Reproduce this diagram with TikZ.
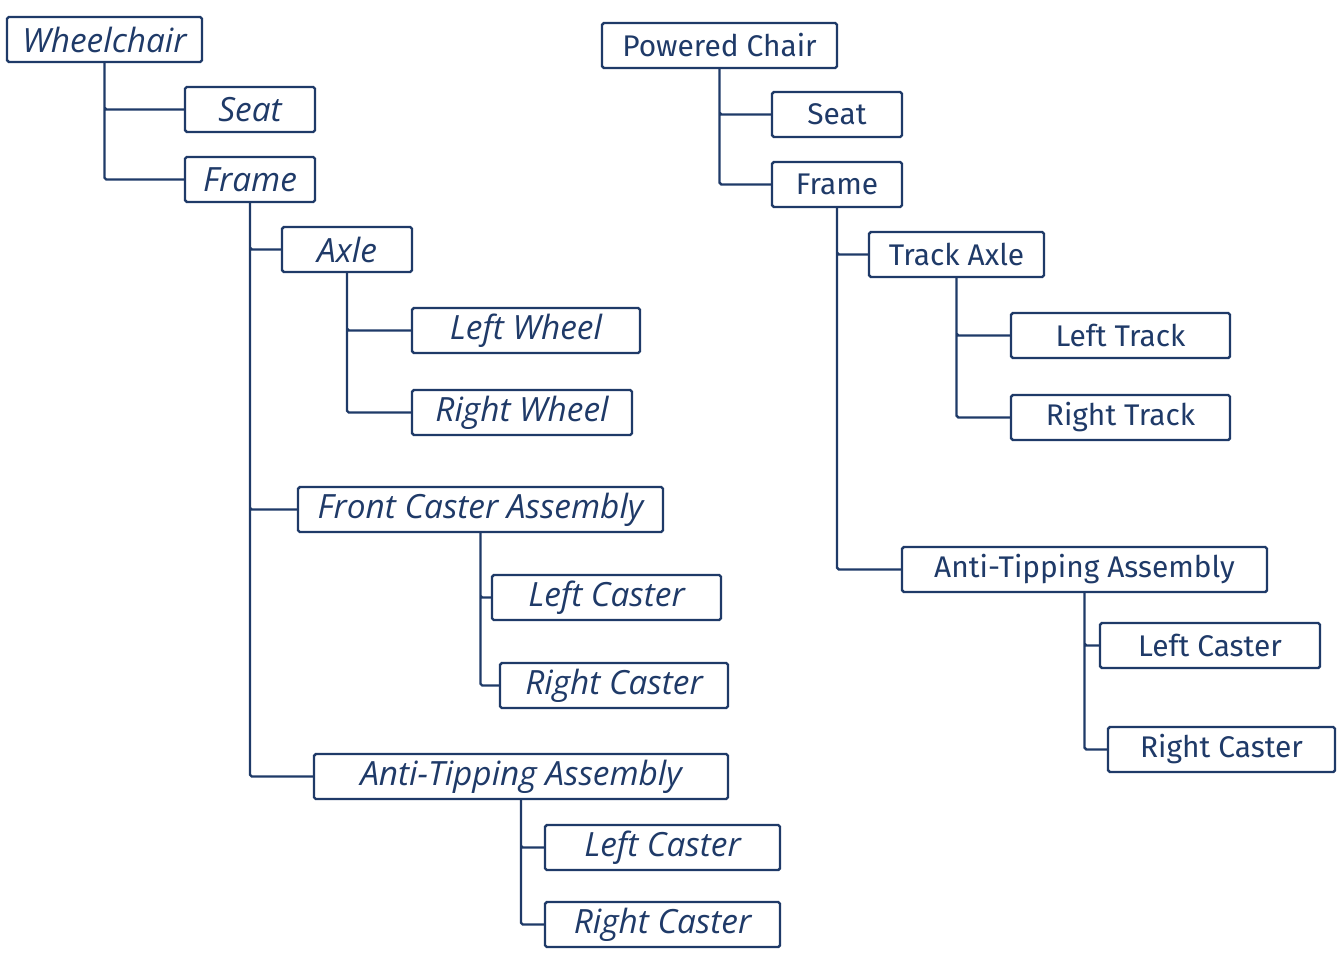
\documentclass[tikz,border=0pt]{standalone}
\usepackage{fontspec}
\newfontfamily\handfont{Open Sans}
\newfontfamily\plainfont{Fira Sans}
\definecolor{ink}{HTML}{1F3A68}

\begin{document}
\begin{tikzpicture}[
    every node/.style={draw=ink, line width=1.4pt, rounded corners=1pt, text=ink,
                       minimum height=0.9cm, inner xsep=2pt, inner ysep=0pt},
    hand/.style={font=\handfont\itshape\fontsize{19}{22}\selectfont},
    plain/.style={font=\plainfont\fontsize{17}{20}\selectfont},
    link/.style={draw=ink, line width=1.4pt, rounded corners=1pt}]

    \useasboundingbox (0,0) rectangle (26.76,-19.46);

    %define manual wheelchair tree
    \node[hand, minimum width=3.9cm]  (wchair) at (2.09,-0.79)  {Wheelchair};
    \node[hand, minimum width=2.6cm]  (lseat)  at (5.0,-2.19)   {Seat};
    \node[hand, minimum width=2.6cm]  (lframe) at (5.0,-3.59)   {Frame};
    \node[hand, minimum width=2.6cm]  (laxle)  at (6.94,-4.99)  {Axle};
    \node[hand, minimum width=4.56cm] (lwheel) at (10.52,-6.61) {Left Wheel};
    \node[hand, minimum width=4.4cm]  (rwheel) at (10.44,-8.25) {Right Wheel};
    \node[hand, minimum width=7.3cm]  (fcast)  at (9.61,-10.19) {Front Caster Assembly};
    \node[hand, minimum width=4.58cm] (fcl)    at (12.13,-11.95) {Left Caster};
    \node[hand, minimum width=4.56cm] (fcr)    at (12.28,-13.71) {Right Caster};
    \node[hand, minimum width=8.28cm] (ltip)   at (10.42,-15.53) {Anti-Tipping Assembly};
    \node[hand, minimum width=4.7cm]  (tcl)    at (13.25,-16.95) {Left Caster};
    \node[hand, minimum width=4.7cm]  (tcr)    at (13.25,-18.49) {Right Caster};

    %define powered chair tree
    \node[plain, minimum width=4.7cm]  (pchair) at (14.39,-0.91) {Powered Chair};
    \node[plain, minimum width=2.6cm]  (rseat)  at (16.74,-2.29) {Seat};
    \node[plain, minimum width=2.6cm]  (rframe) at (16.74,-3.69) {Frame};
    \node[plain, minimum width=3.5cm]  (taxle)  at (19.13,-5.09) {Track Axle};
    \node[plain, minimum width=4.38cm] (ltrack) at (22.41,-6.71) {Left Track};
    \node[plain, minimum width=4.38cm] (rtrack) at (22.41,-8.35) {Right Track};
    \node[plain, minimum width=7.3cm]  (rtip)   at (21.69,-11.39) {Anti-Tipping Assembly};
    \node[plain, minimum width=4.4cm]  (acl)    at (24.2,-12.91) {Left Caster};
    \node[plain, minimum width=4.54cm] (acr)    at (24.43,-14.99) {Right Caster};

    %define the links
    \path[link] (wchair.south) |- (lseat.west)
                (wchair.south) |- (lframe.west)
                (lframe.south) |- (laxle.west)
                (lframe.south) |- (fcast.west)
                (lframe.south) |- (ltip.west)
                (laxle.south)  |- (lwheel.west)
                (laxle.south)  |- (rwheel.west)
                (fcast.south)  |- (fcl.west)
                (fcast.south)  |- (fcr.west)
                (ltip.south)   |- (tcl.west)
                (ltip.south)   |- (tcr.west);

    \path[link] (pchair.south) |- (rseat.west)
                (pchair.south) |- (rframe.west)
                (rframe.south) |- (taxle.west)
                (rframe.south) |- (rtip.west)
                (taxle.south)  |- (ltrack.west)
                (taxle.south)  |- (rtrack.west)
                (rtip.south)   |- (acl.west)
                (rtip.south)   |- (acr.west);

\end{tikzpicture}
\end{document}
